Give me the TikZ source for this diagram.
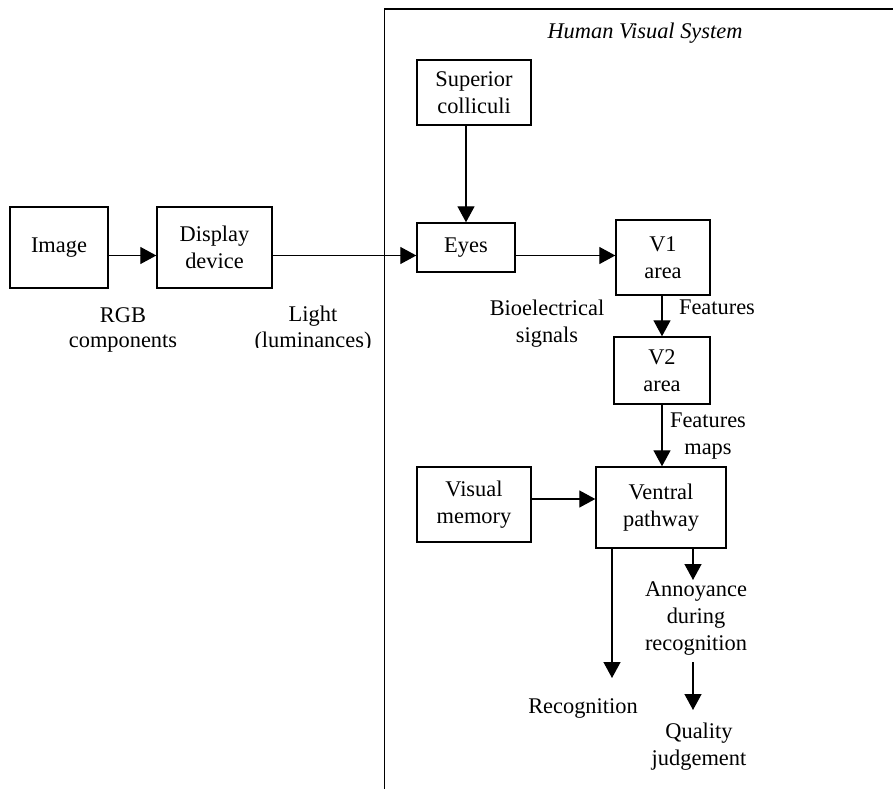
\documentclass[tikz,border=0pt]{standalone}
\usepackage{fontspec}
\setmainfont{Liberation Serif}
\usetikzlibrary{arrows.meta}
\tikzset{
  txt/.style={font=\fontsize{22.4pt}{27pt}\selectfont, align=center, inner sep=0pt},
  box/.style={txt, draw, line width=1.4pt, rectangle},
  lbl/.style={txt},
  arr/.style={line width=1.3pt, -{Triangle[length=16pt,width=17pt]}},
  frame/.style={line width=1.4pt}
}
\begin{document}
\begin{tikzpicture}[x=1pt,y=-1pt]
\useasboundingbox (0,0) rectangle (893,789);
% frame of the Human Visual System
\coordinate (fTR) at (893,9);
\coordinate (fTL) at (384.5,9);
\coordinate (fBL) at (384.5,789);
\draw[frame] (fTR) -- (fTL) -- (fBL);
\node[lbl, font=\fontsize{22.4pt}{27pt}\selectfont\itshape] (hvs) at (645,33) {Human Visual System};

% boxes
\node[box, minimum width=98pt, minimum height=81pt] (img) at (59,247.5) {Image};
\node[box, minimum width=115pt, minimum height=81pt] (disp) at (214.5,247.5) {Display\\device};
\node[box, minimum width=114pt, minimum height=65pt] (sc) at (474,92.5) {Superior\\colliculi};
\node[box, minimum width=98pt, minimum height=49pt] (eyes) at (466,247.5) {Eyes};
\node[box, minimum width=94pt, minimum height=75pt] (v1) at (663,257.5) {V1\\area};
\node[box, minimum width=96pt, minimum height=67pt] (v2) at (662,370.5) {V2\\area};
\node[box, minimum width=114pt, minimum height=75pt] (vm) at (474,504.5) {Visual\\memory};
\node[box, minimum width=130pt, minimum height=81pt] (vp) at (661,507.5) {Ventral\\pathway};

% labels
\node[lbl, font=\fontsize{22.4pt}{25pt}\selectfont] (rgb) at (123,330) {RGB\\components};
\begin{scope}
  \clip (200,290) rectangle (383,347.5);
  \node[lbl, font=\fontsize{22.4pt}{26pt}\selectfont] (light) at (313,329) {Light\\(luminances)};
\end{scope}
\node[lbl] (bio) at (547,323.5) {Bioelectrical\\signals};
\node[lbl] (feat) at (717,307.5) {Features};
\node[lbl] (fmaps) at (708,436) {Features\\maps};
\node[lbl] (ann) at (696,619) {Annoyance\\during\\recognition};
\node[lbl] (rec) at (583,708) {Recognition};
\node[lbl] (qual) at (699,746.5) {Quality\\judgement};

% connectors
\coordinate (lvl) at (0,255.5);
\coordinate (vmlvl) at (0,499);
\coordinate (recEnd) at (612,678);
\coordinate (annEnd) at (693,580);
\coordinate (qStart) at (693,662);
\coordinate (qEnd) at (693,710);
\draw[arr] (img.east |- lvl) -- (disp.west |- lvl);
\draw[arr] (disp.east |- lvl) -- (eyes.west |- lvl);
\draw[arr] (eyes.north |- sc.south) -- (eyes.north);
\draw[arr] (eyes.east |- lvl) -- (v1.west |- lvl);
\draw[arr] (662,0 |- v1.south) -- (662,0 |- v2.north);
\draw[arr] (662,0 |- v2.south) -- (662,0 |- vp.north);
\draw[arr] (vm.east |- vmlvl) -- (vp.west |- vmlvl);
\draw[arr] (recEnd |- vp.south) -- (recEnd);
\draw[arr] (annEnd |- vp.south) -- (annEnd);
\draw[arr] (qStart) -- (qEnd);
\end{tikzpicture}
\end{document}
